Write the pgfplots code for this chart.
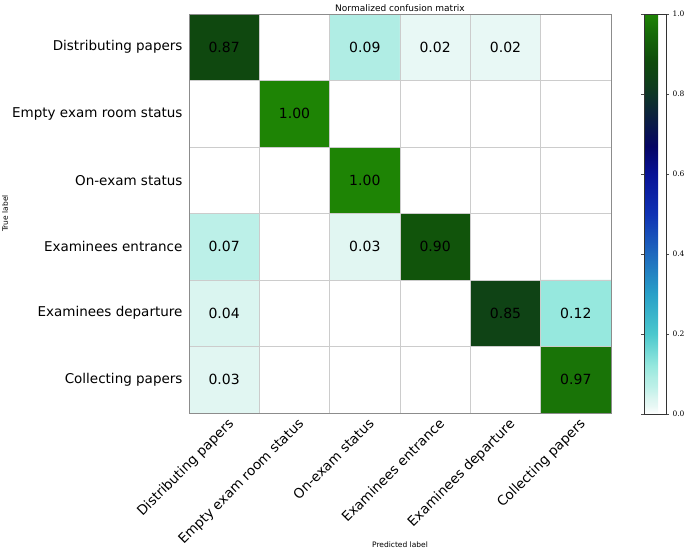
\documentclass[border=0pt]{standalone}
\usepackage{pgfplots}
\pgfplotsset{compat=1.18}
\usepackage{fontspec}
\setmainfont{DejaVu Sans}
\newfontfamily\serifcb{DejaVu Serif}
\begin{document}
\begin{tikzpicture}
\useasboundingbox (0,0) rectangle (685pt,550pt);
\begin{axis}[
  at={(189pt,137pt)}, anchor=south west,
  scale only axis, width=422pt, height=399pt,
  xmin=-0.5, xmax=5.5, ymin=-0.5, ymax=5.5,
  y dir=reverse,
  axis on top,
  colormap={oceanlike}{
    rgb255(0pt)=(255,255,255)
    rgb255(2pt)=(232,248,245)
    rgb255(4pt)=(218,245,240)
    rgb255(7pt)=(188,240,232)
    rgb255(9pt)=(176,237,228)
    rgb255(12pt)=(150,232,222)
    rgb255(20pt)=(75,200,205)
    rgb255(30pt)=(40,160,200)
    rgb255(40pt)=(30,105,190)
    rgb255(50pt)=(15,50,180)
    rgb255(60pt)=(8,18,150)
    rgb255(67pt)=(5,5,100)
    rgb255(75pt)=(12,35,60)
    rgb255(82pt)=(15,60,30)
    rgb255(88pt)=(15,75,12)
    rgb255(95pt)=(22,105,8)
    rgb255(100pt)=(30,132,5)
  },
  point meta min=0, point meta max=1,
  xtick={0,1,2,3,4,5}, ytick={0,1,2,3,4,5},
  xticklabels={Distributing papers,Empty exam room status,On-exam status,Examinees entrance,Examinees departure,Collecting papers},
  yticklabels={Distributing papers,Empty exam room status,On-exam status,Examinees entrance,Examinees departure,Collecting papers},
  major tick length=0pt,
  minor xtick={0.5,1.5,2.5,3.5,4.5}, minor ytick={0.5,1.5,2.5,3.5,4.5},
  minor tick length=0pt,
  minor grid style={color=black!20, line width=0.6pt},
  grid=minor,
  axis line style={color=black!45, line width=0.8pt},
  xticklabel style={font=\fontsize{13.5}{15}\selectfont, rotate=45, anchor=north east, inner sep=1pt, yshift=-4pt},
  yticklabel style={font=\fontsize{13.5}{15}\selectfont, anchor=east, xshift=-3pt},
  title={Normalized confusion matrix},
  title style={font=\fontsize{9}{10}\selectfont, at={(axis description cs:0.5,1)}, anchor=base, yshift=-3pt, inner sep=0pt},
  xlabel={Predicted label},
  xlabel style={font=\fontsize{7.5}{9}\selectfont, at={(axis description cs:0.5,-0.331)}, anchor=center},
  ylabel={True label},
  ylabel style={font=\fontsize{7.5}{9}\selectfont, at={(axis description cs:-0.436,0.5)}, anchor=center},
  colorbar right,
  colorbar style={
    at={(1.0782,1.0)}, anchor=north west,
    width=22pt, height=400pt,
    ytick={0,0.2,0.4,0.6,0.8,1.0},
    yticklabel style={font=\serifcb\fontsize{7.5}{9}\selectfont, /pgf/number format/fixed, /pgf/number format/precision=1, /pgf/number format/fixed zerofill, /pgf/number format/assume math mode=true},
    major tick length=3pt, tick align=outside,
    tick style={color=black!70},
    axis line style={color=black!80, line width=0.6pt},
  },
]
\addplot[matrix plot*, mesh/cols=6, point meta=explicit] table[meta=c] {
x y c
0 0 0.87
1 0 0
2 0 0.09
3 0 0.02
4 0 0.02
5 0 0
0 1 0
1 1 1.00
2 1 0
3 1 0
4 1 0
5 1 0
0 2 0
1 2 0
2 2 1.00
3 2 0
4 2 0
5 2 0
0 3 0.07
1 3 0
2 3 0.03
3 3 0.90
4 3 0
5 3 0
0 4 0.04
1 4 0
2 4 0
3 4 0
4 4 0.85
5 4 0.12
0 5 0.03
1 5 0
2 5 0
3 5 0
4 5 0
5 5 0.97
};
\addplot[only marks, mark=none, point meta=explicit,
  nodes near coords={\pgfmathprintnumber[fixed,fixed zerofill,precision=2,assume math mode=true]{\pgfplotspointmeta}},
  nodes near coords align={center},
  every node near coord/.append style={font=\fontsize{14}{16}\selectfont, color=black, anchor=center}
] table[meta=c] {
x y c
0 0 0.87
2 0 0.09
3 0 0.02
4 0 0.02
1 1 1.00
2 2 1.00
0 3 0.07
2 3 0.03
3 3 0.90
0 4 0.04
4 4 0.85
5 4 0.12
0 5 0.03
5 5 0.97
};
\end{axis}
\end{tikzpicture}
\end{document}
